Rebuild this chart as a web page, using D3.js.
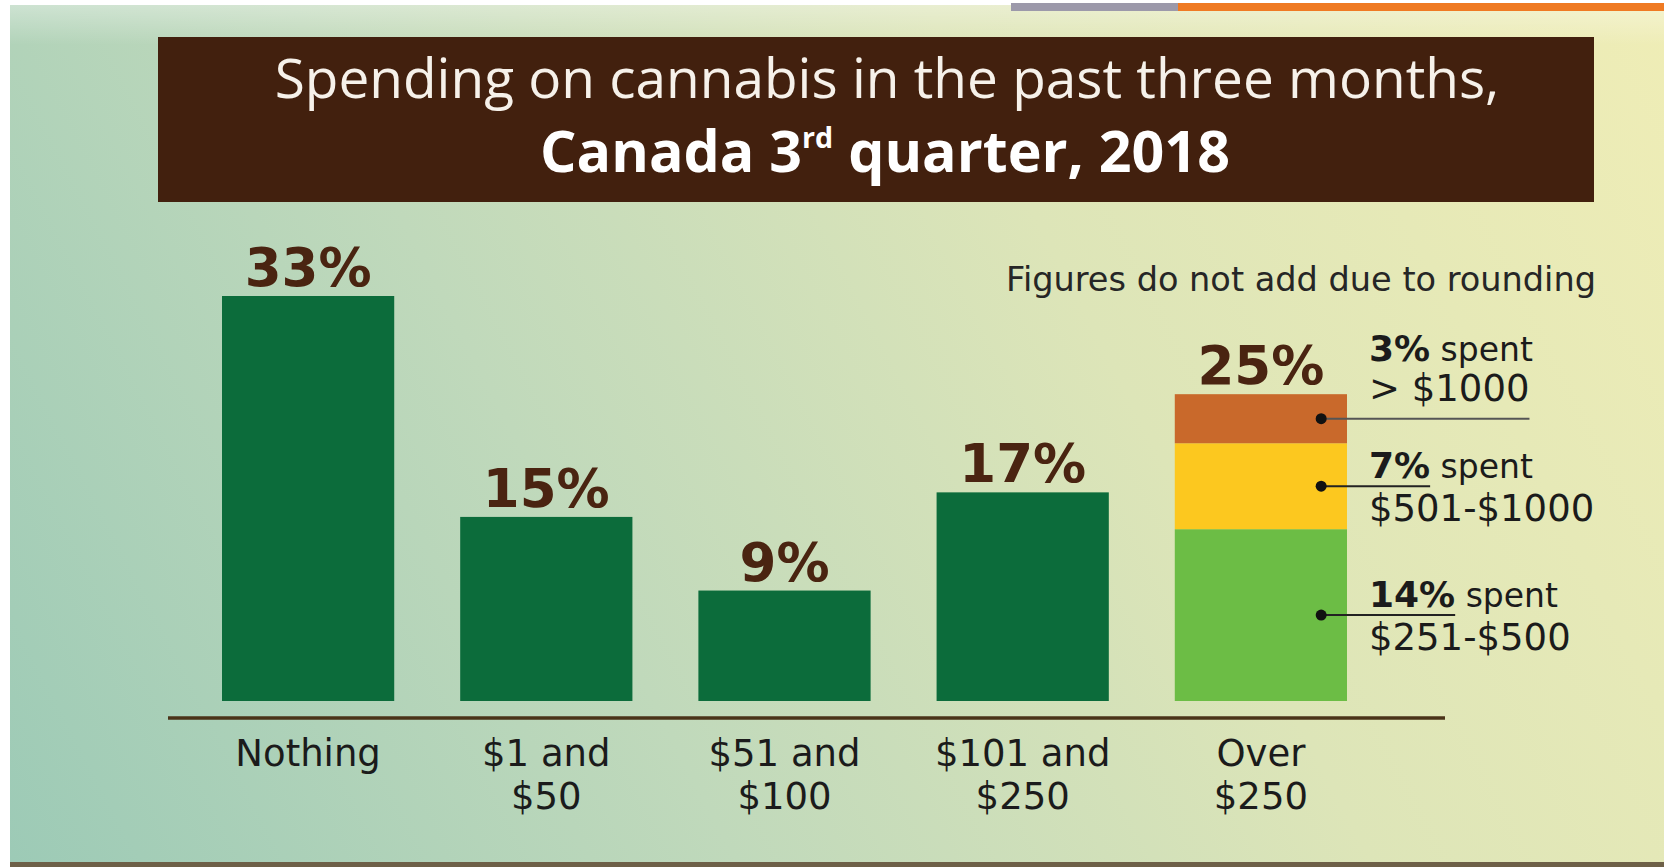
<!DOCTYPE html>
<html>
<head>
<meta charset="utf-8">
<script src="https://cdn.jsdelivr.net/npm/d3@7"></script>
<style>
  html, body { margin: 0; padding: 0; background: #ffffff; }
  svg { display: block; }
</style>
</head>
<body>
<svg id="chart" width="1664" height="867"></svg>
<script>
// ---- data ----
const categoryLines = [["Nothing"], ["$1 and", "$50"], ["$51 and", "$100"], ["$101 and", "$250"], ["Over", "$250"]];
const shares = [33, 15, 9, 17, 25];
const overShares = [14, 7, 3];
const overRanges = ["$251-$500", "$501-$1000", "> $1000"];
const titleLine1 = "Spending on cannabis in the past three months,";
const titleLine2 = ["Canada 3", "rd", " quarter, 2018"];
const footnote = "Figures do not add due to rounding";

// ---- styles ----
const barGreen = "#0c6c3b";
const segColors = ["#6cbd45", "#fcc81f", "#c9692b"];
const pctColor = "#4a2411";
const inkColor = "#1b1b1b";
const labelFont = "'DejaVu Sans', sans-serif";

const W = 1664, H = 867;
const svg = d3.select("#chart");
const defs = svg.append("defs");

// background wash
const bg = defs.append("linearGradient").attr("id", "bgGrad")
  .attr("gradientUnits", "userSpaceOnUse")
  .attr("x1", 0).attr("y1", H).attr("x2", W).attr("y2", 0);
bg.append("stop").attr("offset", 0).attr("stop-color", "#9ccab6");
bg.append("stop").attr("offset", 0.35).attr("stop-color", "#c0d9bb");
bg.append("stop").attr("offset", 0.65).attr("stop-color", "#dde5b8");
bg.append("stop").attr("offset", 1).attr("stop-color", "#efedb6");

svg.append("rect").attr("x", 10).attr("y", 5).attr("width", W - 10).attr("height", H - 10)
  .attr("fill", "url(#bgGrad)");

// soft sun rays
const clip = defs.append("clipPath").attr("id", "bgClip");
clip.append("rect").attr("x", 10).attr("y", 5).attr("width", W - 10).attr("height", H - 10);
const rayArc = d3.arc().innerRadius(0).outerRadius(4000);
const rayStep = 0.03;
const rays = d3.range(2.6, 4.2, rayStep * 2).map(a => ({ startAngle: a, endAngle: a + rayStep }));
svg.append("g").attr("clip-path", "url(#bgClip)")
  .attr("transform", "translate(1250,-1100)")
  .selectAll("path").data(rays).join("path")
  .attr("d", rayArc)
  .attr("fill", "#ffffff").attr("opacity", 0.08);

// top highlight band and page edges
const topBand = defs.append("linearGradient").attr("id", "topBand").attr("x1", 0).attr("y1", 0).attr("x2", 0).attr("y2", 1);
topBand.append("stop").attr("offset", 0).attr("stop-color", "#ffffff").attr("stop-opacity", 0.35);
topBand.append("stop").attr("offset", 1).attr("stop-color", "#ffffff").attr("stop-opacity", 0);
svg.append("rect").attr("x", 10).attr("y", 5).attr("width", W - 10).attr("height", 40).attr("fill", "url(#topBand)");
svg.append("rect").attr("x", 1011).attr("y", 3).attr("width", 167).attr("height", 8).attr("fill", "#9c99aa");
svg.append("rect").attr("x", 1178).attr("y", 3).attr("width", W - 1178).attr("height", 8).attr("fill", "#ef7a23");
svg.append("rect").attr("x", 10).attr("y", H - 5).attr("width", W - 10).attr("height", 5).attr("fill", "#6e6048");

// ---- title banner ----
svg.append("rect").attr("x", 158).attr("y", 37).attr("width", 1436).attr("height", 165).attr("fill", "#42200e");

function fitWidth(sel, target) {
  const len = sel.node().getComputedTextLength();
  const size = parseFloat(sel.attr("font-size"));
  sel.attr("font-size", size * target / len);
}

const t1 = svg.append("text")
  .attr("x", 887).attr("y", 98).attr("text-anchor", "middle")
  .attr("font-family", "'Open Sans', sans-serif").attr("font-size", 50)
  .attr("fill", "#f6f1ea").text(titleLine1);
fitWidth(t1, 1225);

const t2 = svg.append("text")
  .attr("x", 885).attr("y", 172).attr("text-anchor", "middle")
  .attr("font-family", "'Open Sans', sans-serif").attr("font-weight", 700).attr("font-size", 48)
  .attr("fill", "#ffffff");
t2.append("tspan").text(titleLine2[0]);
t2.append("tspan").attr("font-size", "0.5em").attr("dy", "-0.85em").text(titleLine2[1]);
t2.append("tspan").attr("dy", "0.425em").text(titleLine2[2]);
fitWidth(t2, 690);

// ---- scales ----
const x = d3.scaleBand().domain(d3.range(shares.length)).range([222, 1347]).paddingInner(0.277).paddingOuter(0);
const y = d3.scaleLinear().domain([0, 33]).range([701, 296]);

// ---- bars ----
const plain = shares.slice(0, 4).map((v, i) => ({ i, v }));
svg.append("g").selectAll("rect").data(plain).join("rect")
  .attr("x", d => x(d.i)).attr("width", x.bandwidth())
  .attr("y", d => y(d.v)).attr("height", d => y(0) - y(d.v))
  .attr("fill", barGreen);

// stacked "Over $250" bar; the top segment absorbs the rounding gap up to the total
const overIdx = 4;
let acc = 0;
const segs = overShares.map((v, i) => {
  const y0 = acc;
  acc += v;
  const y1 = i === overShares.length - 1 ? shares[overIdx] : acc;
  return { i, v, y0, y1, range: overRanges[i] };
});
svg.append("g").selectAll("rect").data(segs).join("rect")
  .attr("x", x(overIdx)).attr("width", x.bandwidth())
  .attr("y", d => y(d.y1)).attr("height", d => y(d.y0) - y(d.y1))
  .attr("fill", d => segColors[d.i]);

// value labels above bars
svg.append("g").selectAll("text").data(shares).join("text")
  .attr("x", (d, i) => x(i) + x.bandwidth() / 2)
  .attr("y", d => y(d) - 10)
  .attr("text-anchor", "middle")
  .attr("font-family", labelFont).attr("font-weight", 700).attr("font-size", 53)
  .attr("fill", pctColor)
  .text(d => d + "%");

// baseline
svg.append("line").attr("x1", 168).attr("x2", 1445)
  .attr("y1", y(0) + 17).attr("y2", y(0) + 17)
  .attr("stroke", "#4a3318").attr("stroke-width", 3.5);

// category labels
const cat = svg.append("g").selectAll("text").data(categoryLines).join("text")
  .attr("text-anchor", "middle")
  .attr("font-family", labelFont).attr("font-size", 37)
  .attr("fill", inkColor);
cat.selectAll("tspan").data((d, i) => d.map(s => ({ s, i }))).join("tspan")
  .attr("x", d => x(d.i) + x.bandwidth() / 2)
  .attr("y", (d, j) => y(0) + 65 + j * 43)
  .text(d => d.s);

// footnote
const fn = svg.append("text").attr("x", 1596).attr("y", 291).attr("text-anchor", "end")
  .attr("font-family", labelFont).attr("font-size", 29).attr("fill", "#262626")
  .text(footnote);
fitWidth(fn, 590);

// ---- segment call-outs ----
const dotX = x(overIdx) + x.bandwidth() * 0.85;
const textX = 1369;
const notes = svg.append("g");
segs.forEach(d => {
  const dotY = y((d.y0 + d.y1) / 2);
  const isTop = d.i === segs.length - 1;
  const base1 = isTop ? dotY - 58 : dotY - 8;
  const base2 = isTop ? dotY - 18 : dotY + 35;

  const line1 = notes.append("text").attr("x", textX).attr("y", base1)
    .attr("font-family", labelFont).attr("font-size", 36).attr("fill", inkColor);
  const pct = line1.append("tspan").attr("font-weight", 700).text(d.v + "%");
  line1.append("tspan").attr("font-size", 33).text(" spent");

  const line2 = notes.append("text").attr("x", textX).attr("y", base2)
    .attr("font-family", labelFont).attr("font-size", 37).attr("fill", inkColor)
    .text(d.range);

  const pctEnd = textX + pct.node().getComputedTextLength();
  const lineEnd = isTop ? textX + line2.node().getComputedTextLength() : pctEnd;

  notes.append("line").attr("x1", dotX).attr("x2", lineEnd)
    .attr("y1", dotY).attr("y2", dotY)
    .attr("stroke", isTop ? "#555" : "#222").attr("stroke-width", 2);
  notes.append("circle").attr("cx", dotX).attr("cy", dotY).attr("r", 5.5).attr("fill", "#111");
});
</script>
</body>
</html>
